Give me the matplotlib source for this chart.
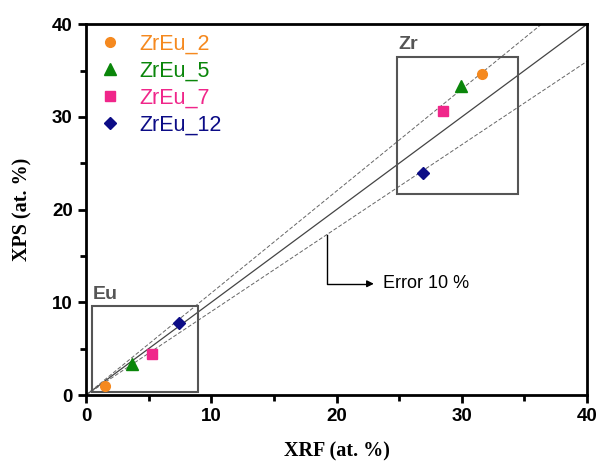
import numpy as np
import matplotlib
matplotlib.use("Agg")
import matplotlib.pyplot as plt
from matplotlib.patches import Rectangle

# samples and measured compositions (at. %)
samples = ["ZrEu_2", "ZrEu_5", "ZrEu_7", "ZrEu_12"]
colors = ["#F5891F", "#0A860A", "#F0268A", "#0C0C86"]
markers = ["o", "^", "s", "D"]
msizes = [7, 8, 6.5, 6.5]

xrf_eu = [1.55, 3.7, 5.3, 7.45]
xps_eu = [1.0, 3.3, 4.4, 7.8]
xrf_zr = [31.6, 29.95, 28.5, 26.9]
xps_zr = [34.6, 33.3, 30.6, 23.9]

fig = plt.figure(figsize=(5.96, 4.65), dpi=100)
ax = fig.add_axes([0.1443, 0.1505, 0.8407, 0.7975])

# reference line and +/-10 % band
xx = np.array([0, 40])
ax.plot(xx, xx, color="#444444", lw=0.9, zorder=1)
ax.plot(xx, 1.1 * xx, color="#666666", lw=0.7, ls=(0, (4, 2)), zorder=1)
ax.plot(xx, 0.9 * xx, color="#666666", lw=0.7, ls=(0, (4, 2)), zorder=1)

for i in range(len(samples)):
    ax.plot([xrf_eu[i], xrf_zr[i]], [xps_eu[i], xps_zr[i]], ls="none",
            marker=markers[i], color=colors[i], ms=msizes[i], label=samples[i], zorder=3)

# boxes around element groups
ax.add_patch(Rectangle((0.45, 0.3), 8.5, 9.3, fill=False, ec="#555555", lw=1.5, zorder=2))
ax.add_patch(Rectangle((24.85, 21.7), 9.6, 14.8, fill=False, ec="#555555", lw=1.5, zorder=2))
ax.text(0.55, 9.9, "Eu", fontsize=14, fontweight="bold", color="#555555",
        family="Liberation Sans", va="bottom", ha="left")
ax.text(24.95, 36.9, "Zr", fontsize=14, fontweight="bold", color="#555555",
        family="Liberation Sans", va="bottom", ha="left")

# error annotation
ax.plot([19.25, 19.25, 22.6], [17.3, 12.0, 12.0], color="black", lw=1.0)
ax.annotate("", xy=(23.2, 12.0), xytext=(22.4, 12.0),
            arrowprops=dict(arrowstyle="-|>", color="black", lw=1.0, mutation_scale=10))
ax.text(23.7, 12.0, "Error 10 %", fontsize=13, family="Liberation Sans", va="center")

ax.set_xlim(0, 40)
ax.set_ylim(0, 40)
ax.set_xticks([0, 10, 20, 30, 40])
ax.set_yticks([0, 10, 20, 30, 40])
ax.set_xticks([5, 15, 25, 35], minor=True)
ax.set_yticks([5, 15, 25, 35], minor=True)
ax.tick_params(which="major", direction="out", length=6, width=2, labelsize=13.5)
ax.tick_params(which="minor", direction="out", length=4, width=2)
for lab in ax.get_xticklabels() + ax.get_yticklabels():
    lab.set_fontweight("bold")
    lab.set_family("Liberation Sans")
for sp in ax.spines.values():
    sp.set_linewidth(2)

ax.set_xlabel("XRF (at. %)", fontsize=14.5, fontweight="bold", family="Liberation Serif", labelpad=12)
ax.set_ylabel("XPS (at. %)", fontsize=14.5, fontweight="bold", family="Liberation Serif", labelpad=14)

leg = ax.legend(loc="upper left", bbox_to_anchor=(0.0, 1.01), frameon=False,
                prop={"family": "Liberation Sans", "size": 15.5}, labelspacing=0.28,
                handlelength=1.0, handletextpad=0.9, borderaxespad=0.2)
for txt, c in zip(leg.get_texts(), colors):
    txt.set_color(c)

fig.savefig("out.png", dpi=100)
